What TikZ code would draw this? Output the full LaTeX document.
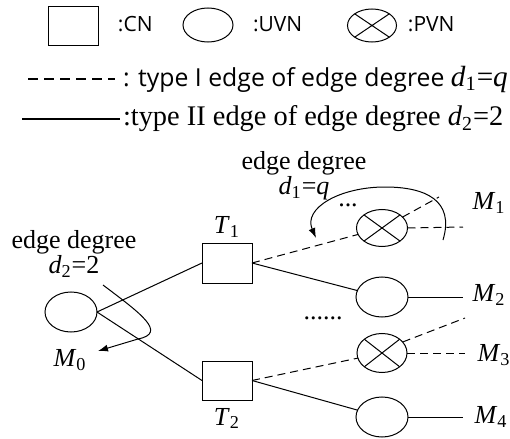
\documentclass[tikz,border=0pt]{standalone}
\usepackage{fontspec}
\setmainfont{Liberation Serif}
\newfontfamily\legfont{Open Sans}
\usetikzlibrary{arrows.meta,positioning,shapes.geometric}
\newcommand{\idx}[2]{\textit{#1}\textsubscript{#2}}
\tikzset{
  cn/.style  ={draw,rectangle,minimum width=25pt,minimum height=20pt,inner sep=0pt},
  uvn/.style ={draw,ellipse,minimum width=26pt,minimum height=20pt,inner sep=0pt},
  pvn/.style ={uvn,path picture={
                 \draw (path picture bounding box.north west) -- (path picture bounding box.south east)
                       (path picture bounding box.south west) -- (path picture bounding box.north east);}},
  eI/.style  ={dash pattern=on 4pt off 2.5pt},
  lbl/.style ={font=\fontsize{13}{12.5}\selectfont,inner sep=0pt},
  leg/.style ={font=\legfont\fontsize{10.5}{12}\selectfont,anchor=west,inner sep=0pt},
  legs/.style={font=\fontsize{14.2}{16}\selectfont,anchor=west,inner sep=0pt},
  degarc/.style={-{Latex[length=5pt,width=3.5pt]}},
}

\begin{document}
\begin{tikzpicture}[x=0.5pt,y=-0.5pt,line width=0.5pt,every node/.style={outer sep=0pt}]
\useasboundingbox (0,0) rectangle (510,439);

% key: node kinds and edge kinds
\node[cn,minimum height=19.5pt] (kcn) at (73,25.5) {};
\node[leg] at (118,24) {:CN};
\node[uvn,minimum width=25pt,minimum height=17pt] (kuvn) at (208,25) {};
\node[leg] at (253,24) {:UVN};
\node[pvn,minimum width=24.5pt,minimum height=16.5pt] (kpvn) at (372,25.5) {};
\node[leg] at (408,24) {:PVN};

\draw[line width=0.6pt,dash pattern=on 5pt off 3pt] (28,79) -- (115,79);
\node[leg,font=\legfont\fontsize{12.4}{14}\selectfont] (kI) at (123,79)
  {: type I edge of edge degree {\rmfamily\fontsize{14.6}{16}\selectfont\idx{d}{1}=\textit{q}}};
\draw[line width=0.6pt] (22,119) -- (120,119);
\node[legs] (kII) at (123,119) {:type II edge of edge degree \idx{d}{2}=2};

% the tree
\node[uvn] (m0) at (71,312) {};
\node[cn] (t1) at (227,263) {};
\node[cn,minimum height=19.5pt] (t2) at (227,380.5) {};
\node[pvn,minimum width=25.5pt,minimum height=18.5pt] (p1) at (382,228) {};
\node[uvn] (u2) at (382,297) {};
\node[pvn,minimum width=25pt,minimum height=19.5pt] (p3) at (382,353) {};
\node[uvn] (u4) at (382,417) {};

\node[lbl,above=3pt of t1] {\idx{T}{1}};
\node[lbl,below=4pt of t2] {\idx{T}{2}};
\node[lbl] (lm0) at (70,360) {\idx{M}{0}};
\node[lbl] (lm1) at (489,203) {\idx{M}{1}};
\node[lbl] (lm2) at (489,295) {\idx{M}{2}};
\node[lbl] (lm3) at (494,355) {\idx{M}{3}};
\node[lbl] (lm4) at (491,417) {\idx{M}{4}};

\coordinate (o1)  at (463,227);
\coordinate (o1u) at (439,197);
\coordinate (o2)  at (463,297);
\coordinate (o3)  at (465,353);
\coordinate (o3u) at (465,318);
\coordinate (o4)  at (463,417);

\draw (m0.east) -- (t1.west);
\draw (m0.east) -- (t2.west);
\draw[eI] (t1.east) -- (p1);
\draw (t1.east) -- (u2);
\draw[eI] (t2.east) -- (p3);
\draw (t2.east) -- (u4);
\draw[eI] (p1.east) -- (o1);
\draw[eI] (p1.28) -- (o1u);
\draw (u2.east) -- (o2);
\draw[eI] (p3.east) -- (o3);
\draw[eI] (p3.28) -- (o3u);
\draw (u4.east) -- (o4);

\node[lbl] at (348,205) {...};
\node[lbl] at (323,318) {......};

% degree annotations
\node[lbl,align=center] (deg2) at (74,254) {edge degree\\ \idx{d}{2}=2};
\node[lbl,align=center] (deg1) at (304,176) {edge degree\\ \idx{d}{1}=\textit{q}};
\draw[degarc] (103,285) .. controls (140,313) and (168,333) .. (138,339) -- (98,351);
\draw[degarc] (443,240) .. controls (455,200) and (425,187) .. (385,187)
            .. controls (340,187) and (303,208) .. (316,238);
\end{tikzpicture}
\end{document}
